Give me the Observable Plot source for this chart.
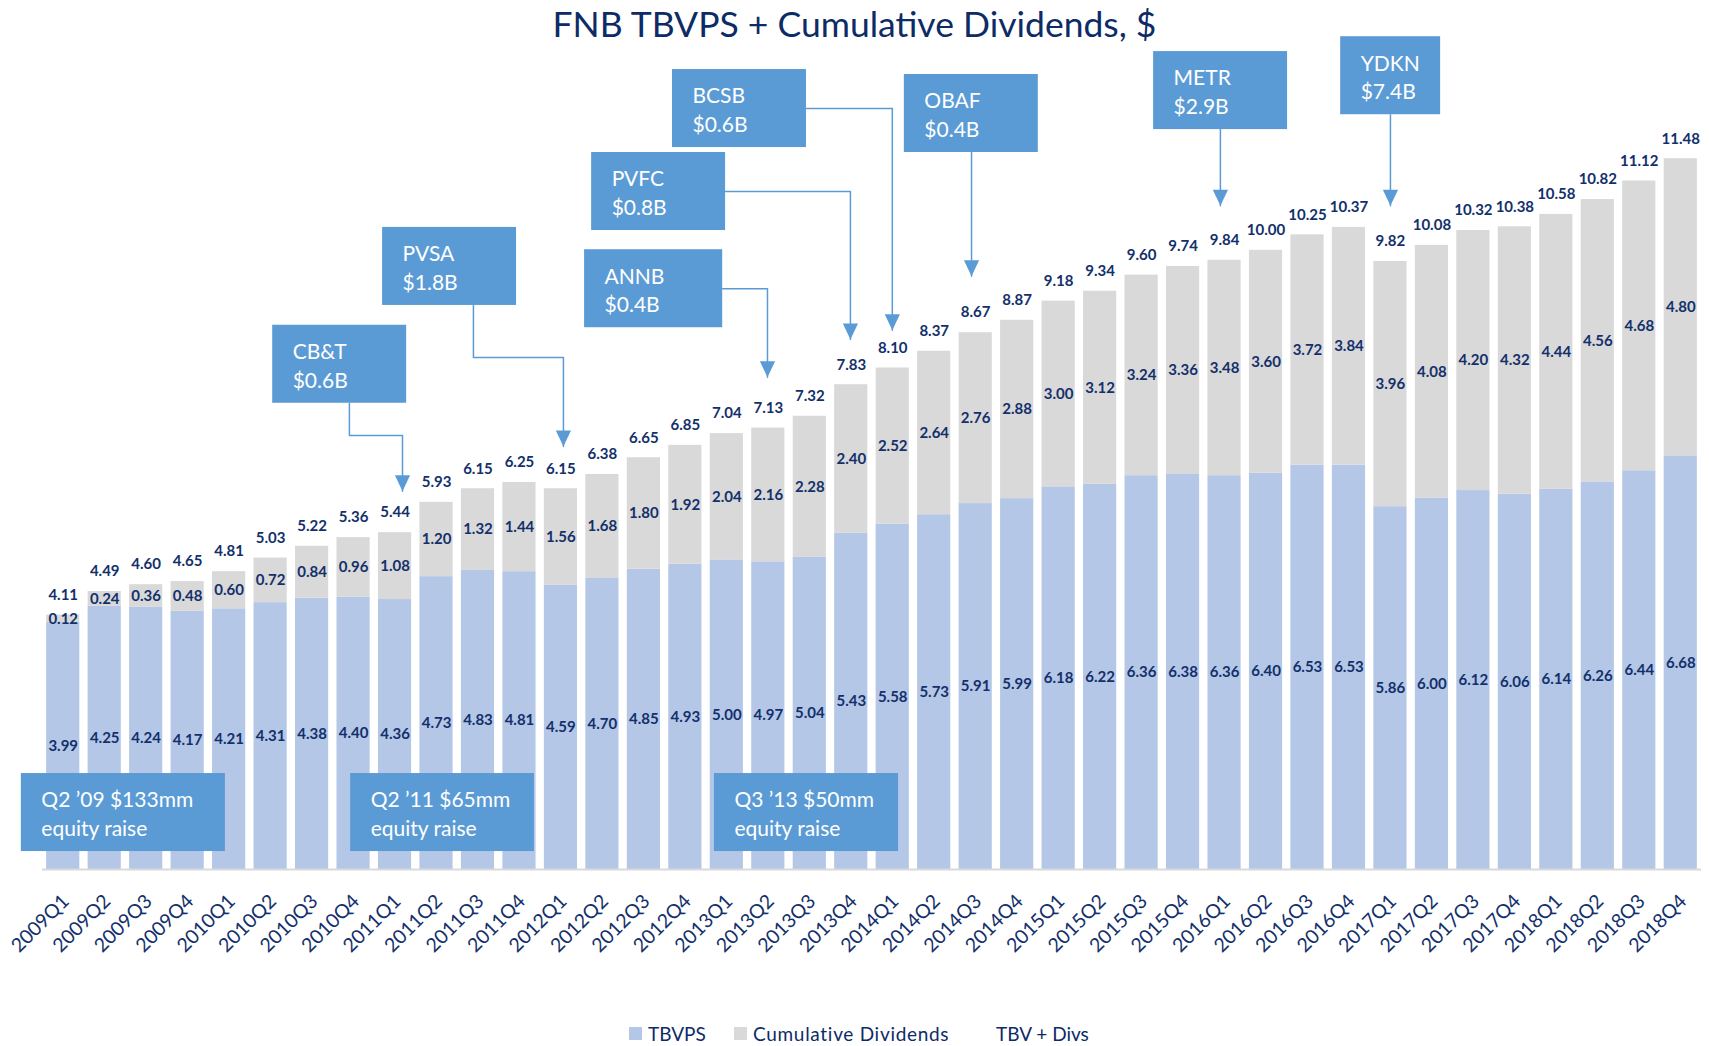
<!DOCTYPE html>
<html>
<head>
<meta charset="utf-8">
<script src="https://cdn.jsdelivr.net/npm/d3@7"></script>
<script src="https://cdn.jsdelivr.net/npm/@observablehq/plot@0.6"></script>
<style>
  html, body { margin: 0; padding: 0; background: #fff; }
  body { width: 1709px; height: 1046px; position: relative; overflow: hidden; font-family: Lato, "Open Sans", sans-serif; }
  #chart { position: absolute; left: 0; top: 0; }
  #title { position: absolute; left: 0; top: 3px; width: 1709px; text-align: center; font-size: 35.5px; line-height: 42px; color: #0d2b66; }
  .sw { position: absolute; top: 1027px; width: 13px; height: 13px; }
  .lt { position: absolute; top: 1021px; font-size: 19px; line-height: 26px; color: #0d2b66; white-space: nowrap; }
</style>
</head>
<body>
<div id="chart"></div>
<div id="title">FNB TBVPS + Cumulative Dividends, $</div>
<div class="sw" style="left:629px;background:#b4c7e7"></div>
<div class="lt" style="left:648px">TBVPS</div>
<div class="sw" style="left:734px;background:#d9d9d9"></div>
<div class="lt" style="left:753px;letter-spacing:0.7px">Cumulative Dividends</div>
<div class="lt" style="left:996px">TBV + Divs</div>
<script>
const quarters = [
  "2009Q1","2009Q2","2009Q3","2009Q4","2010Q1","2010Q2","2010Q3","2010Q4",
  "2011Q1","2011Q2","2011Q3","2011Q4","2012Q1","2012Q2","2012Q3","2012Q4",
  "2013Q1","2013Q2","2013Q3","2013Q4","2014Q1","2014Q2","2014Q3","2014Q4",
  "2015Q1","2015Q2","2015Q3","2015Q4","2016Q1","2016Q2","2016Q3","2016Q4",
  "2017Q1","2017Q2","2017Q3","2017Q4","2018Q1","2018Q2","2018Q3","2018Q4"
];
const tbvps = [
  3.99, 4.25, 4.24, 4.17, 4.21, 4.31, 4.38, 4.40,
  4.36, 4.73, 4.83, 4.81, 4.59, 4.70, 4.85, 4.93,
  5.00, 4.97, 5.04, 5.43, 5.58, 5.73, 5.91, 5.99,
  6.18, 6.22, 6.36, 6.38, 6.36, 6.40, 6.53, 6.53,
  5.86, 6.00, 6.12, 6.06, 6.14, 6.26, 6.44, 6.68
];
const cumulativeDividends = [
  0.12, 0.24, 0.36, 0.48, 0.60, 0.72, 0.84, 0.96,
  1.08, 1.20, 1.32, 1.44, 1.56, 1.68, 1.80, 1.92,
  2.04, 2.16, 2.28, 2.40, 2.52, 2.64, 2.76, 2.88,
  3.00, 3.12, 3.24, 3.36, 3.48, 3.60, 3.72, 3.84,
  3.96, 4.08, 4.20, 4.32, 4.44, 4.56, 4.68, 4.80
];
const tbvPlusDivs = [
  4.11, 4.49, 4.60, 4.65, 4.81, 5.03, 5.22, 5.36,
  5.44, 5.93, 6.15, 6.25, 6.15, 6.38, 6.65, 6.85,
  7.04, 7.13, 7.32, 7.83, 8.10, 8.37, 8.67, 8.87,
  9.18, 9.34, 9.60, 9.74, 9.84, 10.00, 10.25, 10.37,
  9.82, 10.08, 10.32, 10.38, 10.58, 10.82, 11.12, 11.48
];
// acquisitions (name, deal size, quarter pointed at)
const dealNames   = ["CB&T", "PVSA", "ANNB", "PVFC", "BCSB", "OBAF", "METR", "YDKN"];
const dealSizes   = ["$0.6B", "$1.8B", "$0.4B", "$0.8B", "$0.6B", "$0.4B", "$2.9B", "$7.4B"];
const dealTargets = ["2011Q1", "2012Q1", "2013Q2", "2013Q4", "2014Q1", "2014Q3", "2016Q1", "2017Q1"];
// equity raises
const raiseLabels = ["Q2 \u201909 $133mm", "Q2 \u201911 $65mm", "Q3 \u201913 $50mm"];

// ---- annotation layout (in chart data units: x = quarter index, y = $) ----
const dealBoxes = [
  {x1: 5.05,  x2: 8.28,  y1: 7.53,  y2: 8.79},
  {x1: 7.70,  x2: 10.93, y1: 9.11,  y2: 10.37},
  {x1: 12.57, x2: 15.90, y1: 8.75,  y2: 10.01},
  {x1: 12.74, x2: 15.97, y1: 10.32, y2: 11.58},
  {x1: 14.69, x2: 17.92, y1: 11.66, y2: 12.92},
  {x1: 20.28, x2: 23.51, y1: 11.58, y2: 12.84},
  {x1: 26.29, x2: 29.52, y1: 11.95, y2: 13.21},
  {x1: 30.80, x2: 33.21, y1: 12.19, y2: 13.45}
];
const dealArrows = [
  [[6.90, 7.53], [6.90, 7.01], [8.18, 7.01], [8.18, 6.11]],
  [[9.89, 9.11], [9.89, 8.27], [12.06, 8.27], [12.06, 6.83]],
  [[15.90, 9.38], [16.98, 9.38], [16.98, 7.95]],
  [[15.97, 10.95], [18.98, 10.95], [18.98, 8.56]],
  [[17.92, 12.29], [19.99, 12.29], [19.99, 8.71]],
  [[21.90, 11.58], [21.90, 9.58]],
  [[27.90, 11.95], [27.90, 10.72]],
  [[32.00, 12.19], [32.00, 10.72]]
];
const raiseBoxes = [
  {x1: -1.01, x2: 3.91,  y1: 0.29, y2: 1.55},
  {x1: 6.93,  x2: 11.36, y1: 0.29, y2: 1.55},
  {x1: 15.70, x2: 20.14, y1: 0.29, y2: 1.55}
];

const navy = "#13306b";
const boxBlue = "#5b9bd5";

const rows = quarters.map((q, i) => ({q, i, tbvps: tbvps[i], divs: cumulativeDividends[i], total: tbvPlusDivs[i]}));

const deals = dealNames.map((name, k) => ({...dealBoxes[k], text: name + "\n" + dealSizes[k], target: dealTargets[k]}));
const raises = raiseLabels.map((t, k) => ({...raiseBoxes[k], text: t + "\nequity raise"}));
const arrowPts = dealArrows.flatMap((pts, k) => pts.map(([x, y]) => ({x, y, name: dealNames[k]})));
const arrowTips = dealArrows.map((pts, k) => ({x: pts[pts.length - 1][0], y: pts[pts.length - 1][1], name: dealNames[k]}));

const downTriangle = {
  draw(ctx, size) {
    const r = Math.sqrt(size / Math.PI);
    ctx.moveTo(-0.95 * r, -2 * r);
    ctx.lineTo(0.95 * r, -2 * r);
    ctx.lineTo(0, 0);
    ctx.closePath();
  }
};

const half = 0.4;
const chart = Plot.plot({
  width: 1709,
  height: 1046,
  marginLeft: 42,
  marginRight: 8,
  marginTop: 126,
  marginBottom: 177,
  style: {fontFamily: "Lato, 'Open Sans', sans-serif", background: "transparent"},
  x: {type: "linear", domain: [-0.5, quarters.length - 0.5], axis: null},
  y: {domain: [0, 12], axis: null},
  marks: [
    Plot.rect(rows, {x1: d => d.i - half, x2: d => d.i + half, y1: 0, y2: "tbvps", fill: "#b4c7e7"}),
    Plot.rect(rows, {x1: d => d.i - half, x2: d => d.i + half, y1: "tbvps", y2: d => d.tbvps + d.divs, fill: "#d9d9d9"}),
    Plot.ruleY([0], {stroke: "#d9d9d9", strokeWidth: 2}),
    Plot.text(rows, {x: "i", y: d => d.tbvps / 2, text: d => d.tbvps.toFixed(2), fill: navy, fontSize: 15, fontWeight: "bold"}),
    Plot.text(rows, {x: "i", y: d => d.tbvps + d.divs / 2, text: d => d.divs.toFixed(2), fill: navy, fontSize: 15, fontWeight: "bold"}),
    Plot.text(rows, {x: "i", y: d => d.tbvps + d.divs, text: d => d.total.toFixed(2), dy: -20, fill: navy, fontSize: 15, fontWeight: "bold"}),
    Plot.text(rows, {x: "i", frameAnchor: "bottom", text: "q", rotate: -45, textAnchor: "end", dx: 7, dy: 33, fill: navy, fontSize: 19.5}),
    Plot.rect(raises, {x1: "x1", x2: "x2", y1: "y1", y2: "y2", fill: boxBlue}),
    Plot.text(raises, {x: "x1", y: d => (d.y1 + d.y2) / 2, text: "text", dx: 20, textAnchor: "start", lineAnchor: "middle", lineHeight: 1.38, fill: "white", fontSize: 21}),
    Plot.line(arrowPts, {x: "x", y: "y", z: "name", stroke: boxBlue, strokeWidth: 1.5}),
    Plot.dot(arrowTips, {x: "x", y: "y", r: 8, symbol: downTriangle, fill: boxBlue}),
    Plot.rect(deals, {x1: "x1", x2: "x2", y1: "y1", y2: "y2", fill: boxBlue}),
    Plot.text(deals, {x: "x1", y: d => (d.y1 + d.y2) / 2, text: "text", dx: 20, textAnchor: "start", lineAnchor: "middle", lineHeight: 1.38, fill: "white", fontSize: 21})
  ]
});
document.getElementById("chart").appendChild(chart);
</script>
</body>
</html>
